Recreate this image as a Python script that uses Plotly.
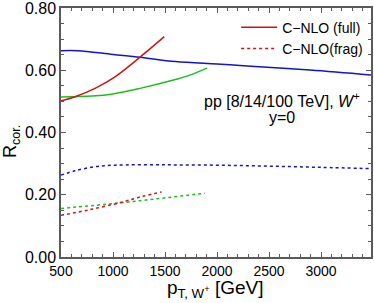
import plotly.graph_objects as go

# Data
blue_full_x = [500, 660, 1000, 1259, 1600, 2000, 2288, 2894, 3480]
blue_full_y = [0.663, 0.663, 0.651, 0.642, 0.628, 0.620, 0.614, 0.601, 0.585]

red_full_x = [500, 635, 827, 1019, 1259, 1493]
red_full_y = [0.502, 0.515, 0.542, 0.579, 0.642, 0.708]

green_full_x = [500, 800, 1000, 1250, 1600, 1712, 1903]
green_full_y = [0.514, 0.517, 0.524, 0.541, 0.570, 0.581, 0.607]

blue_frag_x = [500, 635, 827, 1019, 1500, 2000, 2500, 3000, 3480]
blue_frag_y = [0.263, 0.277, 0.290, 0.295, 0.296, 0.295, 0.292, 0.288, 0.284]

red_frag_x = [500, 762, 1083, 1275, 1467]
red_frag_y = [0.134, 0.151, 0.176, 0.194, 0.209]

green_frag_x = [500, 1083, 1883]
green_frag_y = [0.156, 0.1745, 0.205]

RED = "rgb(204,20,20)"
BLUE = "rgb(20,20,200)"
GREEN = "rgb(30,190,30)"
FONT = "Liberation Sans"
AX = "rgb(90,90,90)"

fig = go.Figure()
fig.add_trace(go.Scatter(x=blue_full_x, y=blue_full_y, mode="lines", line=dict(color=BLUE, width=1.5, shape="spline"), showlegend=False))
fig.add_trace(go.Scatter(x=green_full_x, y=green_full_y, mode="lines", line=dict(color=GREEN, width=1.5, shape="spline"), showlegend=False))
fig.add_trace(go.Scatter(x=red_full_x, y=red_full_y, mode="lines", line=dict(color=RED, width=1.5, shape="spline"), name="C\u2212NLO (full)"))
fig.add_trace(go.Scatter(x=blue_frag_x, y=blue_frag_y, mode="lines", line=dict(color=BLUE, width=1.5, dash="dot", shape="spline"), showlegend=False))
fig.add_trace(go.Scatter(x=green_frag_x, y=green_frag_y, mode="lines", line=dict(color=GREEN, width=1.5, dash="dot", shape="spline"), showlegend=False))
fig.add_trace(go.Scatter(x=red_frag_x, y=red_frag_y, mode="lines", line=dict(color=RED, width=1.5, dash="dot", shape="spline"), name="C\u2212NLO(frag)"))

axis_common = dict(showgrid=False, zeroline=False, showline=True, linecolor=AX, linewidth=1.5,
                   mirror="allticks", ticks="inside", tickcolor=AX, tickwidth=1, automargin=False,
                   ticklabeloverflow="allow")

fig.update_xaxes(range=[500, 3480], tickvals=[500, 1000, 1500, 2000, 2500, 3000], ticklen=5,
                 tickfont=dict(family=FONT, size=14, color="black"),
                 minor=dict(dtick=100, tick0=0, ticks="inside", ticklen=3, tickcolor=AX),
                 **axis_common)
fig.update_yaxes(range=[0, 0.8], tickvals=[0, 0.2, 0.4, 0.6, 0.8], tickformat=".2f", ticklen=5,
                 tickfont=dict(family=FONT, size=16, color="black"),
                 minor=dict(dtick=0.05, tick0=0, ticks="inside", ticklen=3, tickcolor=AX),
                 **axis_common)

# axis titles
fig.add_annotation(x=0.497, y=-0.13, xref="paper", yref="paper", yanchor="middle",
                   text="p<sub>T, W<sup>+</sup></sub> [GeV]", showarrow=False,
                   font=dict(family=FONT, size=19, color="black"))
fig.add_annotation(x=-0.158, y=0.462, xref="paper", yref="paper", textangle=-90,
                   xanchor="center", yanchor="middle",
                   text="R<sub>cor.</sub>", showarrow=False,
                   font=dict(family=FONT, size=18, color="black"))

fig.add_annotation(x=0.713, y=0.63, xref="paper", yref="paper", text="pp [8/14/100 TeV], <i>W</i><sup>+</sup>",
                   showarrow=False, font=dict(family=FONT, size=16, color="black"), xanchor="center", yanchor="middle")
fig.add_annotation(x=0.713, y=0.562, xref="paper", yref="paper", text="y=0",
                   showarrow=False, font=dict(family=FONT, size=16, color="black"), xanchor="center", yanchor="middle")

fig.update_layout(width=374, height=303, margin=dict(l=61, r=3, t=8, b=46, autoexpand=False),
                  paper_bgcolor="white", plot_bgcolor="white",
                  legend=dict(x=0.565, y=0.985, xanchor="left", yanchor="top", bgcolor="rgba(0,0,0,0)",
                              font=dict(family=FONT, size=14, color="black"),
                              tracegroupgap=0, itemwidth=36))

fig.write_html("out.html", config={"displayModeBar": False},
               post_script="document.body.style.margin='0';")
